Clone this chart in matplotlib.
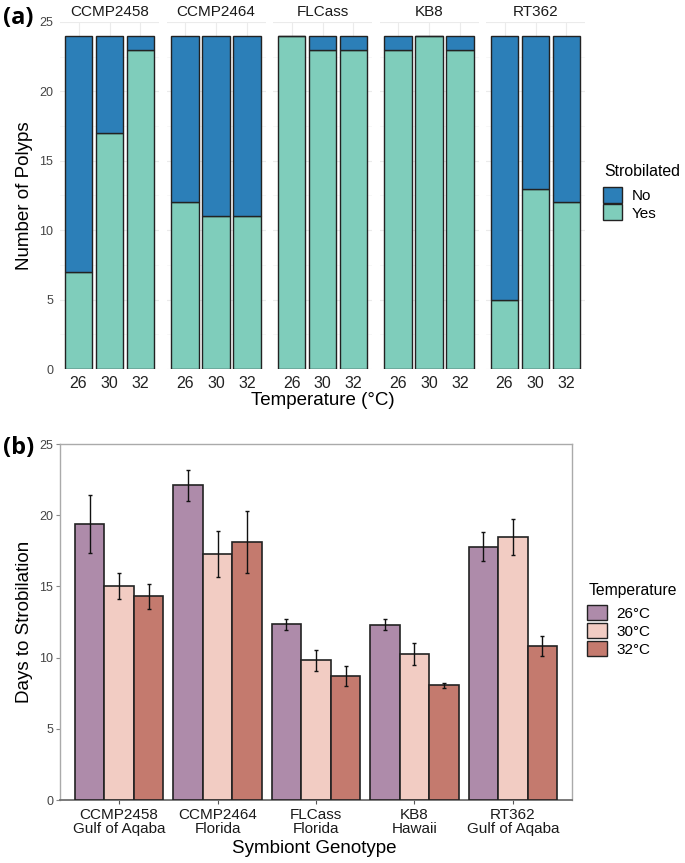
import matplotlib
matplotlib.use("Agg")
import matplotlib.pyplot as plt
from matplotlib.patches import Patch
import numpy as np

plt.rcParams['font.family'] = ['Liberation Sans', 'DejaVu Sans']

# ---------------- data ----------------
genotypes = ["CCMP2458", "CCMP2464", "FLCass", "KB8", "RT362"]
origins = ["Gulf of Aqaba", "Florida", "Florida", "Hawaii", "Gulf of Aqaba"]
temps = ["26", "30", "32"]
total_polyps = 24
yes_counts = [[7, 17, 23], [12, 11, 11], [24, 23, 23], [23, 24, 23], [5, 13, 12]]

days_mean = {
    "26": [19.4, 22.1, 12.35, 12.3, 17.8],
    "30": [15.05, 17.25, 9.8, 10.25, 18.5],
    "32": [14.3, 18.15, 8.7, 8.05, 10.8],
}
days_se = {
    "26": [2.05, 1.1, 0.38, 0.38, 1.05],
    "30": [0.9, 1.62, 0.76, 0.77, 1.26],
    "32": [0.9, 2.18, 0.72, 0.18, 0.72],
}

col_no = "#2C7FB8"
col_yes = "#7FCDBB"
temp_cols = {"26": "#AE8BAA", "30": "#F2CCC3", "32": "#C47A6E"}
edge = "#222222"

W, H = 685, 863
fig = plt.figure(figsize=(W / 100, H / 100), dpi=100)

def fx(px):
    return px / W

def fy(py):
    return 1 - py / H

# ---------------- panel (a) ----------------
facet_w = 99
gap = 7.5
left0 = 60
top_a, bot_a = 22, 369
axes_a = []
for i, g in enumerate(genotypes):
    l = left0 + i * (facet_w + gap)
    ax = fig.add_axes([fx(l), fy(bot_a), facet_w / W, (bot_a - top_a) / H])
    axes_a.append(ax)
    x = np.arange(1, 4)
    yes = np.array(yes_counts[i])
    no = total_polyps - yes
    ax.bar(x, yes, width=0.9, color=col_yes, edgecolor=edge, linewidth=1.0, zorder=3)
    ax.bar(x, no, bottom=yes, width=0.9, color=col_no, edgecolor=edge, linewidth=1.0, zorder=3)
    ax.set_xlim(0.4, 3.6)
    ax.set_ylim(0, 25)
    ax.set_xticks(x)
    ax.set_xticklabels(temps, fontsize=11.5, color="#222222")
    ax.set_yticks([0, 5, 10, 15, 20, 25])
    ax.set_yticks([2.5, 7.5, 12.5, 17.5, 22.5], minor=True)
    if i == 0:
        ax.set_yticklabels(["0", "5", "10", "15", "20", "25"], fontsize=9, color="#444444")
    else:
        ax.set_yticklabels([])
    ax.tick_params(length=0, pad=5, which="both")
    ax.grid(True, which="major", color="#EBEBEB", linewidth=0.8, zorder=0)
    ax.grid(True, which="minor", axis="y", color="#F4F4F4", linewidth=0.5, zorder=0)
    for s in ax.spines.values():
        s.set_visible(False)
    fig.text(fx(l + facet_w / 2), fy(12), g, ha="center", va="center",
             fontsize=11, color="#1A1A1A")

fig.text(fx(25), fy((top_a + bot_a) / 2), "Number of Polyps", rotation=90,
         ha="center", va="center", fontsize=13.5)
fig.text(fx(323), fy(400), "Temperature (°C)", ha="center", va="center", fontsize=13.5)

fig.text(fx(604), fy(172), "Strobilated", ha="left", va="center", fontsize=11.4)
fig.legend(handles=[Patch(facecolor=col_no, edgecolor=edge, label="No"),
                    Patch(facecolor=col_yes, edgecolor=edge, label="Yes")],
           loc="upper left", bbox_to_anchor=(fx(603), fy(187)),
           frameon=False, fontsize=11, borderpad=0, borderaxespad=0,
           handlelength=1.25, handleheight=1.24, handletextpad=0.65, labelspacing=0.08)

fig.text(fx(3), fy(18), "(a)", fontsize=17, fontweight="bold", ha="left", va="center",
         family=["Open Sans", "DejaVu Sans"])

# ---------------- panel (b) ----------------
top_b, bot_b, left_b, right_b = 444, 800, 60, 572
axb = fig.add_axes([fx(left_b), fy(bot_b), (right_b - left_b) / W, (bot_b - top_b) / H])
xg = np.arange(1, len(genotypes) + 1)
bw = 0.3
for j, t in enumerate(temps):
    xs = xg + (j - 1) * bw
    axb.bar(xs, days_mean[t], width=bw, color=temp_cols[t], edgecolor=edge,
            linewidth=1.2, zorder=3)
    axb.errorbar(xs, days_mean[t], yerr=days_se[t], fmt="none", ecolor="#111111",
                 elinewidth=1.0, capsize=1.5, capthick=1.0, zorder=4)
axb.set_xlim(0.4, 5.6)
axb.set_ylim(0, 25)
axb.set_yticks([0, 5, 10, 15, 20, 25])
axb.set_yticklabels(["0", "5", "10", "15", "20", "25"], fontsize=9, color="#444444")
axb.set_xticks(xg)
axb.set_xticklabels([f"{g}\n{o}" for g, o in zip(genotypes, origins)], fontsize=11,
                    color="#1A1A1A", linespacing=1.0)
axb.tick_params(axis="y", length=3, width=0.8, color="#888888", pad=2)
axb.tick_params(axis="x", length=3, width=0.8, color="#555555", pad=3)
for s in ["top", "right", "left"]:
    axb.spines[s].set_color("#AAAAAA")
    axb.spines[s].set_linewidth(1.0)
axb.spines["bottom"].set_color("#707070")
axb.spines["bottom"].set_linewidth(1.3)
fig.text(fx(25), fy((top_b + bot_b) / 2), "Days to Strobilation", rotation=90,
         ha="center", va="center", fontsize=13.5)
fig.text(fx(314), fy(848), "Symbiont Genotype", ha="center", va="center", fontsize=13.5)

fig.text(fx(589), fy(590), "Temperature", ha="left", va="center", fontsize=11.3)
fig.legend(handles=[Patch(facecolor=temp_cols[t], edgecolor=edge, label=f"{t}°C") for t in temps],
           loc="upper left", bbox_to_anchor=(fx(587), fy(605)),
           frameon=False, fontsize=11, borderpad=0, borderaxespad=0,
           handlelength=1.3, handleheight=1.18, handletextpad=0.6, labelspacing=0.13)

fig.text(fx(3), fy(448), "(b)", fontsize=17, fontweight="bold", ha="left", va="center",
         family=["Open Sans", "DejaVu Sans"])

fig.savefig("out.png", dpi=100)
